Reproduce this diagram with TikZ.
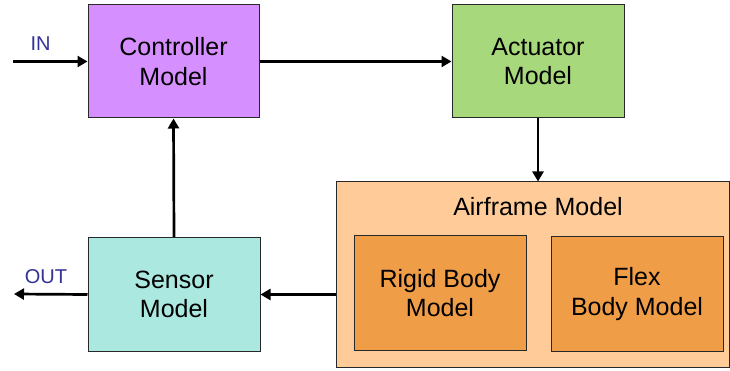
\documentclass[tikz,border=0pt]{standalone}
\usepackage{fontspec}
\setmainfont{Liberation Sans}
\usetikzlibrary{arrows.meta,calc}
\definecolor{ctrlc}{RGB}{214,143,255}
\definecolor{actc}{RGB}{168,216,124}
\definecolor{airc}{RGB}{255,204,153}
\definecolor{bodyc}{RGB}{240,157,72}
\definecolor{sensc}{RGB}{170,232,224}
\definecolor{labc}{RGB}{50,50,150}
\definecolor{edgec}{RGB}{40,40,40}
\tikzset{
  block/.style={draw=edgec, line width=1pt, rectangle, align=center, inner sep=0pt,
    font=\fontsize{25}{29.5}\selectfont},
  conn/.style={line width=2.7pt, -{Triangle[length=10pt,width=11pt]}},
  sig/.style={text=labc, font=\fontsize{20}{24}\selectfont, inner sep=0pt}
}
\begin{document}
\begin{tikzpicture}[x=1pt,y=-1pt]
\useasboundingbox (0,0) rectangle (730,371);
\node[block, fill=ctrlc, minimum width=171pt, minimum height=113pt] (ctrl) at (173.5,61.5) {Controller\\Model};
\node[block, fill=actc, minimum width=172pt, minimum height=113pt] (act) at (538,61.5) {Actuator\\Model};
\node[block, fill=airc, minimum width=393pt, minimum height=185pt] (air) at (532.5,274.5) {};
\node[font=\fontsize{25}{29.5}\selectfont, inner sep=0pt] (airlab) at (538,207) {Airframe Model};
\node[block, fill=bodyc, minimum width=172pt, minimum height=115pt] (rigid) at (440,293) {Rigid Body\\Model};
\node[block, fill=bodyc, minimum width=172pt, minimum height=115pt] (flex) at (637,294) {Flex\\Body Model};
\node[block, fill=sensc, minimum width=172pt, minimum height=114pt] (sens) at (174,294.5) {Sensor\\Model};
\coordinate (in) at (13,61.5);
\coordinate (out) at (14,294);
\node[sig] (inlab) at (40.5,44) {IN};
\node[sig] (outlab) at (46,277) {OUT};
\draw[conn] (in) -- (ctrl.west);
\draw[conn] (ctrl.east) -- (act.west);
\draw[conn] (act.south) -- (act.south |- air.north);
\draw[conn] (air.west |- sens.east) -- (sens.east);
\draw[conn] (sens.north) -- (ctrl.south);
\draw[conn] (sens.west) -- (out);
\end{tikzpicture}
\end{document}
